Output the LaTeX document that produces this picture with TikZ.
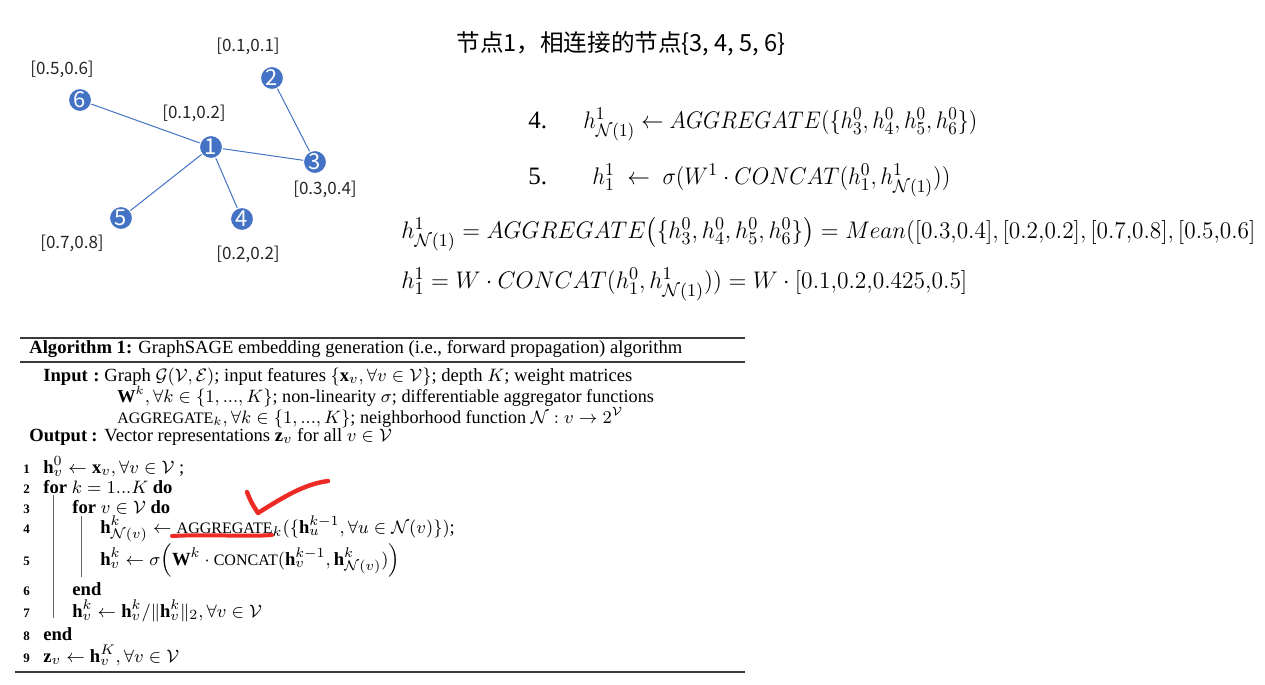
\documentclass[tikz,border=0pt]{standalone}
\usepackage{amsmath,amssymb}
\usepackage{graphicx}
\usepackage{fontspec}
\setmainfont{Liberation Serif}
\newfontfamily\cjk{Noto Sans CJK SC}
\usetikzlibrary{positioning}
\definecolor{vert}{HTML}{4472C4}
\definecolor{pen}{HTML}{EE2A24}
\definecolor{rulegray}{HTML}{3A3A3A}
% squeeze a formula to a given width, height kept
\newcommand{\fitw}[2]{\resizebox{#1}{\height}{#2}}

\begin{document}
\begin{tikzpicture}[x=0.5pt,y=-0.5pt,
  vtx/.style={circle,fill=vert,draw=white,line width=0.5pt,minimum size=11.5pt,inner sep=0pt,text=white,font=\cjk\fontsize{11}{11}\selectfont},
  feat/.style={font=\cjk\fontsize{8.5}{9}\selectfont,text=black!85,inner sep=0pt},
  eqn/.style={anchor=base west,inner sep=0pt,font=\fontsize{12.5}{14}\selectfont},
  algo/.style={anchor=base west,inner sep=0pt,font=\fontsize{9.3}{11}\selectfont},
  lno/.style={anchor=base west,inner sep=0pt,font=\bfseries\fontsize{6.5}{8}\selectfont}]
\useasboundingbox (0,0) rectangle (1265,685);
% the small graph, node 1 and its neighbours
\node[vtx] (n1) at (211,147) {1};
\node[vtx] (n2) at (272,78) {2};
\node[vtx] (n3) at (315,162) {3};
\node[vtx] (n4) at (242,219) {4};
\node[vtx] (n5) at (121,218) {5};
\node[vtx] (n6) at (80,100) {6};
\foreach \a/\b in {n1/n6,n1/n3,n1/n5,n1/n4,n2/n3} {\draw[vert,line width=0.5pt] (\a) -- (\b);}
% features of every node
\node[feat] (f1) at (194,113) {[0.1,0.2]};
\node[feat] (f2) at (248,46) {[0.1,0.1]};
\node[feat] (f3) at (325,189) {[0.3,0.4]};
\node[feat] (f4) at (248,254) {[0.2,0.2]};
\node[feat] (f5) at (72,243) {[0.7,0.8]};
\node[feat] (f6) at (62,69) {[0.5,0.6]};
% the worked example on the right
\node[anchor=west,inner sep=0pt,font=\cjk\fontsize{11.8}{14}\selectfont] (title) at (456,44) {节点1，相连接的节点\{3, 4, 5, 6\}};
\node[eqn] (s4) at (528,128) {4.};
\node[eqn] (e4) at (583,128) {\fitw{197pt}{$h^1_{\mathcal{N}(1)} \leftarrow AGGREGATE(\{h^0_3,h^0_4,h^0_5,h^0_6\})$}};
\node[eqn] (s5) at (528,184) {5.};
\node[eqn] (e5) at (592,184) {\fitw{179pt}{$h^1_1 \;\leftarrow\; \sigma(W^1\cdot CONCAT(h^0_1,h^1_{\mathcal{N}(1)}))$}};
\node[eqn] (agg) at (401,238) {\fitw{427pt}{$h^1_{\mathcal{N}(1)} = AGGREGATE\bigl(\{h^0_3,h^0_4,h^0_5,h^0_6\}\bigr) = Mean([0.3{,}0.4], [0.2{,}0.2], [0.7{,}0.8], [0.5{,}0.6]$}};
\node[eqn] (cat) at (401,288) {\fitw{283pt}{$h^1_1 = W\cdot CONCAT(h^0_1,h^1_{\mathcal{N}(1)})) = W\cdot[0.1{,}0.2{,}0.425{,}0.5]$}};
% the algorithm box
\draw[rulegray,line width=1pt] (20,338) -- (745,338);
\draw[rulegray,line width=0.6pt] (20,362) -- (745,362);
\draw[rulegray,line width=1pt] (15,672) -- (745,672);
\node[algo] (cap) at (29,353) {\textbf{Algorithm 1:} GraphSAGE embedding generation (i.e., forward propagation) algorithm};
\node[algo] (inp) at (43,381) {\textbf{Input}};
\node[algo] (inc) at (93,381) {\textbf{:}};
\node[algo] (in1) at (104,381) {Graph $\mathcal{G}(\mathcal{V},\mathcal{E})$; input features $\{\mathbf{x}_v,\forall v\in\mathcal{V}\}$; depth $K$; weight matrices};
\node[algo,font=\fontsize{9.1}{11}\selectfont] (in2) at (117,402) {$\mathbf{W}^k,\forall k\in\{1,...,K\}$; non-linearity $\sigma$; differentiable aggregator functions};
\node[algo,font=\fontsize{9.1}{11}\selectfont] (in3) at (117,423) {{\fontsize{8}{9}\selectfont AGGREGATE}$_k,\forall k\in\{1,...,K\}$; neighborhood function $\mathcal{N}:v\rightarrow 2^{\mathcal{V}}$};
\node[algo] (outp) at (29,441) {\textbf{Output}};
\node[algo] (outc) at (91,441) {\textbf{:}};
\node[algo] (out1) at (104,441) {Vector representations $\mathbf{z}_v$ for all $v\in\mathcal{V}$};
% numbered lines
\foreach \k/\y in {1/473,2/493,3/513,4/533,5/565,6/595,7/617,8/640,9/662} {\node[lno] (k\k) at (23,\y) {\k};}
\node[algo] (l1) at (43,473) {$\mathbf{h}^0_v \leftarrow \mathbf{x}_v,\forall v\in\mathcal{V}$ ;};
\node[algo] (l2) at (43,493) {\textbf{for} $k=1...K$ \textbf{do}};
\node[algo] (l3) at (72,513) {\textbf{for} $v\in\mathcal{V}$ \textbf{do}};
\node[algo] (l4) at (100,533) {$\mathbf{h}^k_{\mathcal{N}(v)} \leftarrow \text{\fontsize{8}{9}\selectfont AGGREGATE}_k(\{\mathbf{h}^{k-1}_u,\forall u\in\mathcal{N}(v)\})$;};
\node[algo] (l5) at (100,565) {$\mathbf{h}^k_v \leftarrow \sigma\Bigl(\mathbf{W}^k\cdot \text{\fontsize{8}{9}\selectfont CONCAT}(\mathbf{h}^{k-1}_v,\mathbf{h}^k_{\mathcal{N}(v)})\Bigr)$};
\node[algo] (l6) at (72,595) {\textbf{end}};
\node[algo] (l7) at (72,617) {$\mathbf{h}^k_v \leftarrow \mathbf{h}^k_v/\|\mathbf{h}^k_v\|_2,\forall v\in\mathcal{V}$};
\node[algo] (l8) at (43,640) {\textbf{end}};
\node[algo] (l9) at (43,662) {$\mathbf{z}_v \leftarrow \mathbf{h}^K_v,\forall v\in\mathcal{V}$};
\draw[black!60,line width=0.5pt] (53,495) -- (53,618);
\draw[black!60,line width=0.5pt] (81,516) -- (81,577);
% the red pen marks
\draw[pen,line width=2pt,line cap=round] (172,536) .. controls (210,534) and (245,537) .. (272,535);
\draw[pen,line width=2.2pt,line cap=round,line join=round] (247,492) .. controls (251,502) .. (258,513) .. controls (285,496) and (305,484) .. (328,481);
\end{tikzpicture}
\end{document}
